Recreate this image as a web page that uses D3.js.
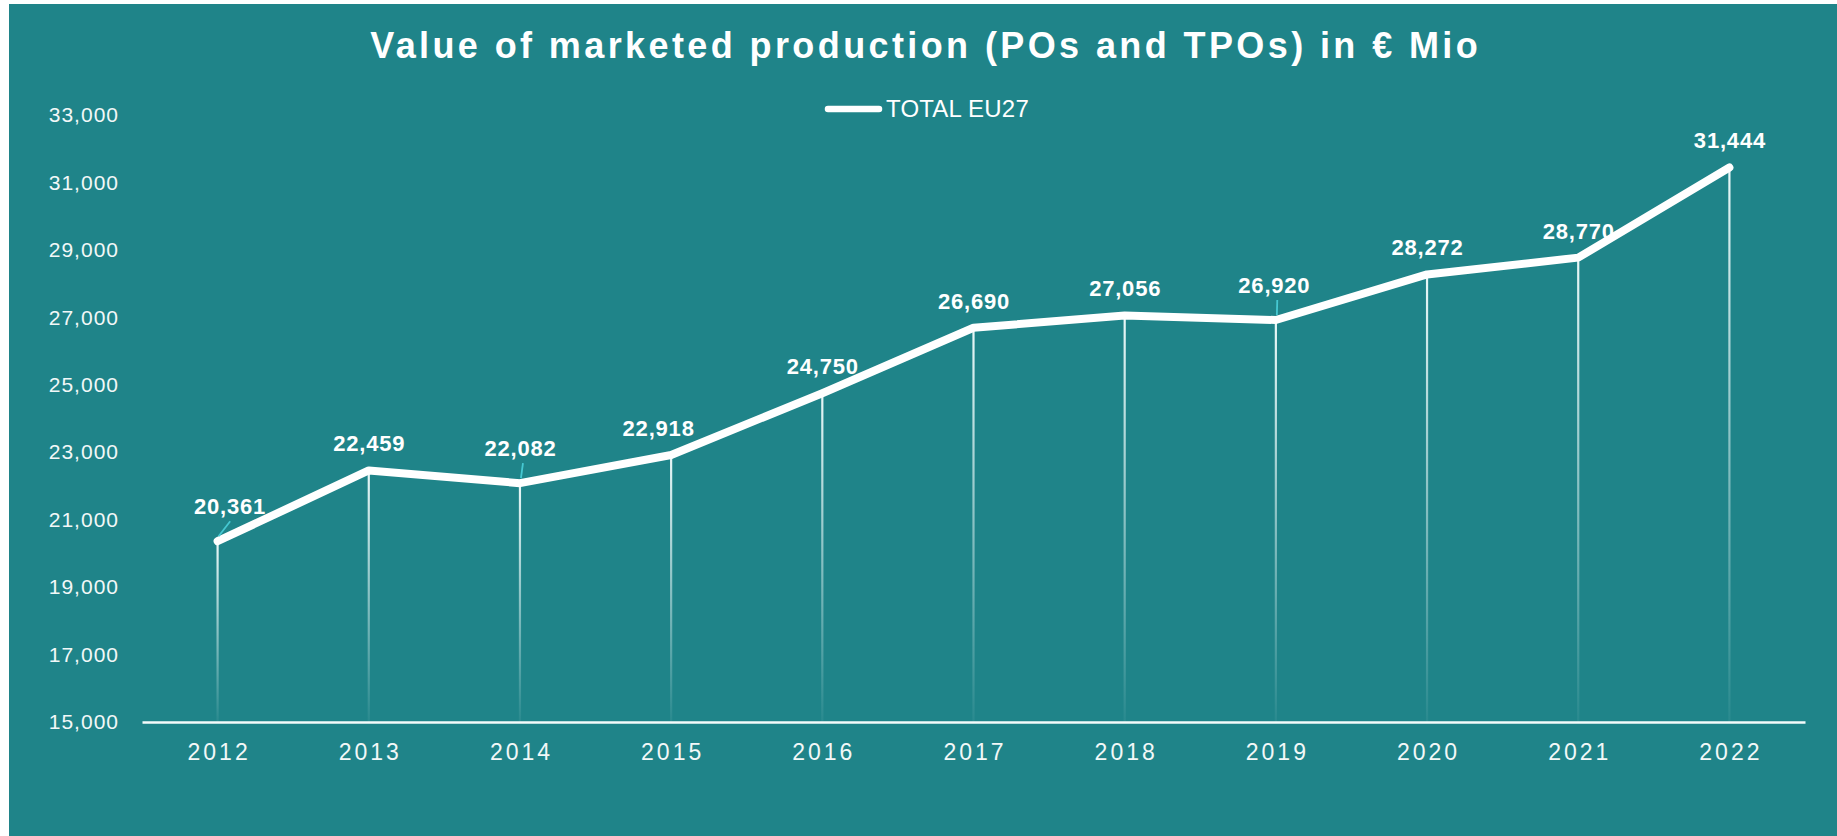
<!DOCTYPE html>
<html>
<head>
<meta charset="utf-8">
<script src="https://cdn.jsdelivr.net/npm/d3@7"></script>
<style>
  html, body { margin: 0; padding: 0; background: #ffffff; }
  svg { display: block; font-family: "Liberation Sans", Arial, sans-serif; }
</style>
</head>
<body>
<div class="chart"></div>
<script>
//////////////////////////////////////////////////////////////
/////////////////////////// Data /////////////////////////////
//////////////////////////////////////////////////////////////

var years = ["2012", "2013", "2014", "2015", "2016", "2017", "2018", "2019", "2020", "2021", "2022"];
var totalEU27 = [20361, 22459, 22082, 22918, 24750, 26690, 27056, 26920, 28272, 28770, 31444];
var yTicks = [15000, 17000, 19000, 21000, 23000, 25000, 27000, 29000, 31000, 33000];
var seriesName = "TOTAL EU27";
var titleText = "Value of marketed production (POs and TPOs) in \u20AC Mio";

var data = years.map(function(d, i) { return {year: d, value: totalEU27[i]}; });

//////////////////////////////////////////////////////////////
///////////////////// General settings ///////////////////////
//////////////////////////////////////////////////////////////

var width = 1837;
var height = 836;
var bg = "#1f8489";

// plot area
var plot = {left: 142, right: 1805, top: 115, bottom: 722};

// labels Excel moved by hand (dx, dy from the default spot) + leader line
var labelNudge = {
  "2012": {dx: 12, dy: -8, leader: true},
  "2014": {dx: 0, dy: -8, leader: true},
  "2015": {dx: -13, dy: 0},
  "2019": {dx: -2, dy: -8, leader: true}
};

//////////////////////////////////////////////////////////////
///////////////////// Scales & Axes //////////////////////////
//////////////////////////////////////////////////////////////

var xScale = d3.scaleBand().domain(years).range([plot.left, plot.right]).padding(0);
var yScale = d3.scaleLinear().domain([15000, 33000]).range([plot.bottom, plot.top]);
var xc = function(d) { return xScale(d) + xScale.bandwidth() / 2; };

var svg = d3.select(".chart").append("svg")
    .attr("width", width)
    .attr("height", height);

// teal panel (white strip left / top like the screenshot)
svg.append("rect")
    .attr("x", 9)
    .attr("y", 4)
    .attr("width", width - 9)
    .attr("height", height - 4)
    .attr("fill", bg);

// gradient for the drop lines
var defs = svg.append("defs");
var grad = defs.append("linearGradient")
    .attr("id", "dropGrad")
    .attr("x1", 0).attr("y1", 0).attr("x2", 0).attr("y2", 1);
grad.append("stop").attr("offset", "0%").attr("stop-color", "#eaf8f8").attr("stop-opacity", 1);
grad.append("stop").attr("offset", "100%").attr("stop-color", "#eaf8f8").attr("stop-opacity", 0.05);

//Title
svg.append("text")
    .attr("x", 924)
    .attr("y", 58)
    .attr("text-anchor", "middle")
    .attr("dx", 1.7)
    .style("font-size", "36px")
    .style("font-weight", "bold")
    .style("letter-spacing", "3.4px")
    .style("fill", "#ffffff")
    .text(titleText);

//Legend
var legend = svg.append("g").attr("class", "legend");
legend.append("line")
    .attr("x1", 828).attr("x2", 879)
    .attr("y1", 109).attr("y2", 109)
    .attr("stroke", "#ffffff")
    .attr("stroke-width", 6.5)
    .attr("stroke-linecap", "round");
legend.append("text")
    .attr("x", 886)
    .attr("y", 117)
    .style("font-size", "24px")
    .style("letter-spacing", "0.2px")
    .style("fill", "#ffffff")
    .text(seriesName);

//Y axis (labels only)
var yAxis = d3.axisLeft(yScale)
    .tickValues(yTicks)
    .tickSize(0)
    .tickPadding(0)
    .tickFormat(d3.format(","));

var gy = svg.append("g")
    .attr("class", "y axis")
    .attr("transform", "translate(119,0)")
    .call(yAxis);
gy.select(".domain").remove();
gy.selectAll("text")
    .style("font-size", "21px")
    .style("letter-spacing", "1px")
    .style("font-family", "'Liberation Sans', Arial, sans-serif")
    .attr("fill", "#f2f8f8");

//X axis
var xAxis = d3.axisBottom(xScale).tickSize(0).tickPadding(0);
var gx = svg.append("g")
    .attr("class", "x axis")
    .attr("transform", "translate(0," + plot.bottom + ")")
    .call(xAxis);
gx.select(".domain")
    .attr("stroke", "#f4fbfb")
    .attr("stroke-width", 2.5);
gx.selectAll("text")
    .attr("y", 38)
    .attr("dy", 0)
    .attr("dx", 1.5)
    .style("font-size", "23px")
    .style("letter-spacing", "3px")
    .style("font-family", "'Liberation Sans', Arial, sans-serif")
    .attr("fill", "#f2f8f8");

//////////////////////////////////////////////////////////////
//////////////////////// Series //////////////////////////////
//////////////////////////////////////////////////////////////

//Drop lines (thin rects so the bbox gradient works)
svg.selectAll(".drop")
    .data(data).enter()
    .append("rect")
        .attr("class", "drop")
        .attr("x", function(d) { return xc(d.year) - 1.1; })
        .attr("y", function(d) { return yScale(d.value); })
        .attr("width", 2.2)
        .attr("height", function(d) { return plot.bottom - yScale(d.value); })
        .attr("fill", "url(#dropGrad)");

var line = d3.line()
    .x(function(d) { return xc(d.year); })
    .y(function(d) { return yScale(d.value); });

svg.append("path")
    .datum(data)
    .attr("d", line)
    .attr("fill", "none")
    .attr("stroke", "#ffffff")
    .attr("stroke-width", 8)
    .attr("stroke-linejoin", "round")
    .attr("stroke-linecap", "round");

//Leader lines
svg.selectAll(".leader")
    .data(data.filter(function(d) { return labelNudge[d.year] && labelNudge[d.year].leader; })).enter()
    .append("line")
        .attr("class", "leader")
        .attr("x1", function(d) { return xc(d.year) + 1; })
        .attr("y1", function(d) { return yScale(d.value) - 5; })
        .attr("x2", function(d) { return xc(d.year) + labelNudge[d.year].dx * 0.8 + 3; })
        .attr("y2", function(d) { return yScale(d.value) - 20; })
        .attr("stroke", "#46c8d2")
        .attr("stroke-width", 1.8);

//Data labels
svg.selectAll(".dataLabel")
    .data(data).enter()
    .append("text")
        .attr("class", "dataLabel")
        .attr("x", function(d) { var n = labelNudge[d.year]; return xc(d.year) + (n ? n.dx : 0) + 0.5; })
        .attr("y", function(d) { var n = labelNudge[d.year]; return yScale(d.value) - 19 + (n ? n.dy : 0); })
        .attr("text-anchor", "middle")
        .style("font-size", "22px")
        .style("font-weight", "bold")
        .style("letter-spacing", "0.8px")
        .style("fill", "#ffffff")
        .text(function(d) { return d3.format(",")(d.value); });
</script>
</body>
</html>
